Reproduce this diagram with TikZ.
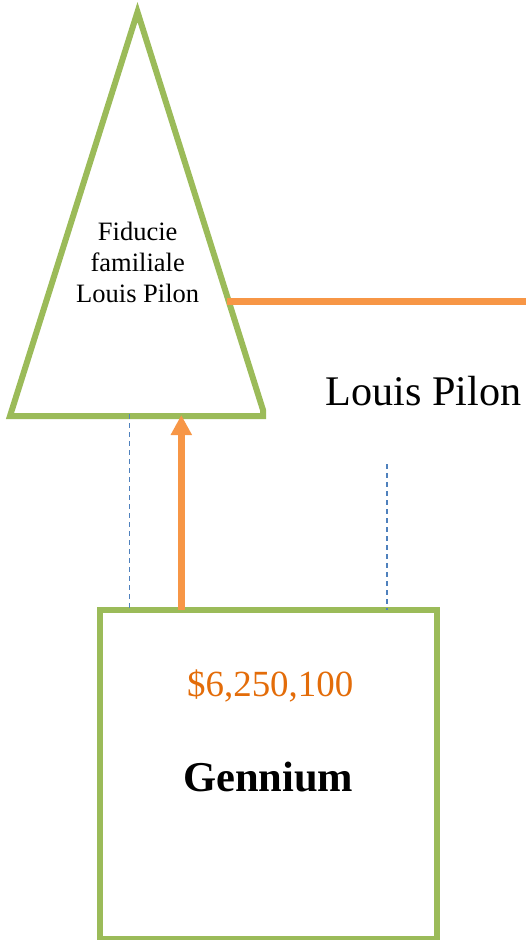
\documentclass[tikz,border=0pt]{standalone}
\usepackage{fontspec}
\setmainfont{Liberation Serif}
\usetikzlibrary{arrows.meta}
\definecolor{ogreen}{HTML}{9BBB59}
\definecolor{oorange}{HTML}{F79646}
\definecolor{torange}{HTML}{E36C09}
\definecolor{oblue}{HTML}{4F81BD}
\begin{document}
\begin{tikzpicture}[x=1pt,y=1pt,
  greenline/.style={draw=ogreen,line width=6pt},
  orangeline/.style={draw=oorange,line width=7pt},
  guide/.style={draw=oblue,line width=1.5pt,dash pattern=on 5pt off 4pt},
  arr/.style={draw=oorange,line width=7pt,-{Triangle[length=20pt,width=20pt]}},
  lbl/.style={inner sep=0pt,font=\fontsize{26.5}{31}\selectfont,align=center}]
\useasboundingbox (0,0) rectangle (526,-940);
% triangle
\coordinate (tA) at (137.5,-12);
\coordinate (tL) at (10,-416);
\coordinate (tR1) at (263,-410);
\coordinate (tR2) at (263,-416);
\draw[greenline,line join=miter] (tL) -- (tA) -- (tR1) -- (tR2) -- cycle;
\node[lbl,anchor=north] (trust) at (137.7,-222) {Fiducie\\familiale\\Louis Pilon};
% box
\node[greenline,rectangle,minimum width=337pt,minimum height=329.5pt,inner sep=0pt,outer sep=0pt,anchor=north west] (gen) at (100,-609.5) {};
\node[inner sep=0pt,anchor=base,text=torange,font=\fontsize{36.9}{40}\selectfont] (amt) at (270.2,-696.7) {\$6,250,100};
\node[inner sep=0pt,anchor=base,font=\fontsize{42.5}{48}\selectfont\bfseries] (gname) at (268.3,-791.7) {Gennium};
% person
\node[inner sep=0pt,anchor=base,font=\fontsize{42.2}{48}\selectfont] (lp) at (423.5,-405) {Louis Pilon};
% orange horizontal line
\coordinate (hS) at (227,-301);
\coordinate (hE) at (530,-301);
\draw[orangeline] (hS) -- (hE);
% dashed guides
\coordinate (d1S) at (129.3,-414);
\coordinate (d2S) at (387,-464);
\draw[guide] (d1S) -- (d1S |- gen.north);
\draw[guide] (d2S) -- (d2S |- gen.north);
% arrow
\coordinate (aS) at (181.3,-609.5);
\coordinate (aE) at (181.3,-415);
\draw[arr] (aS) -- (aE);
\end{tikzpicture}
\end{document}
